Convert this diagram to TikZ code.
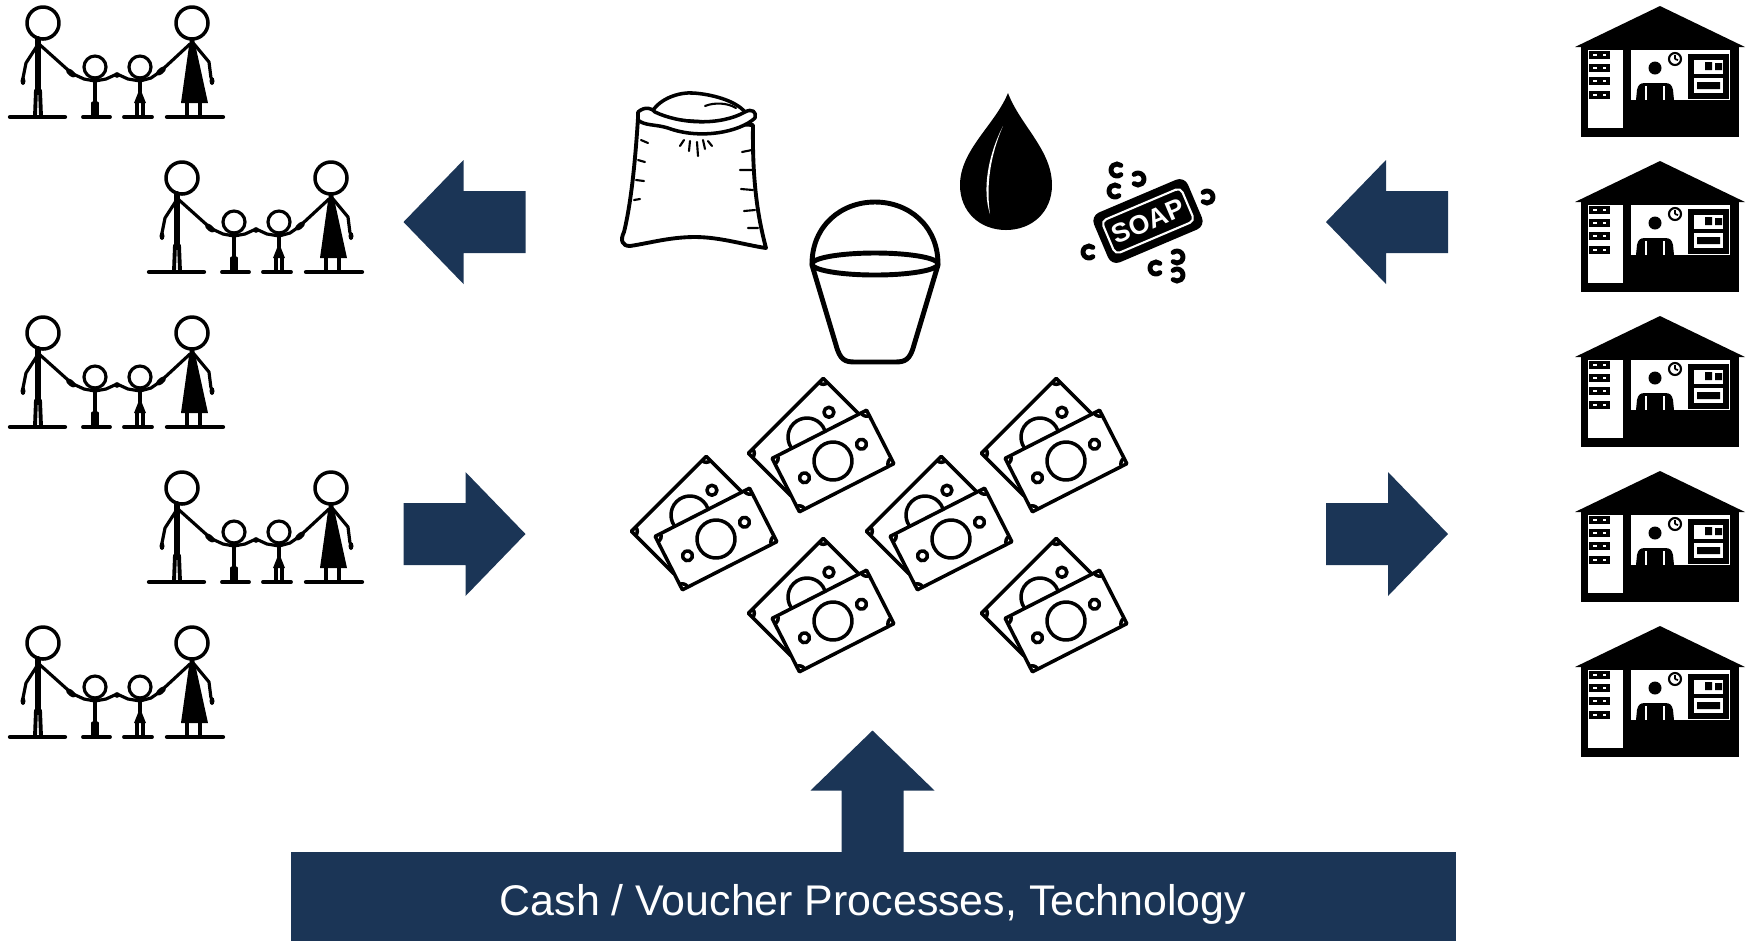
\documentclass[tikz,border=0pt]{standalone}
\usepackage{fontspec}
\setmainfont{Liberation Sans}

\definecolor{barblue}{RGB}{27,53,86}

\tikzset{
  ink/.style={line width=1pt, line cap=round, line join=round},
  % block arrow, pointing right, centred on the origin
  bigarrow/.pic={
    \fill[barblue] (-61,-31) -- (1,-31) -- (1,-62) -- (61,0) -- (1,62) -- (1,31) -- (-61,31) -- cycle;
  },
  suds/.pic={
    \draw[line width=1.4pt, line cap=round] (50:6) arc (50:310:6);
  },
  note/.pic={
    \filldraw[ink, fill=white] (-53,-30) rectangle (53,30);
    \begin{scope}
      \clip (-53,-30) rectangle (53,30);
      \foreach \cx/\cy in {-53/-30, 53/-30, 53/30, -53/30}
        \draw[ink] (\cx,\cy) circle (6);
    \end{scope}
    \draw[ink] (0,0) circle (19);
    \draw[ink] (33,-2) circle (5) (-33,2) circle (5);
  },
  bundle/.pic={
    \pic[rotate=45] at (-14,-11) {note};
    \pic[rotate=27] at (12,13) {note};
  },
  family/.pic={
    % father
    \draw[ink] (43,23) circle (16);
    \draw[ink, line width=1.7pt] (38,39) -- (38,92);
    \draw[ink, line width=1.1pt] (36,90) -- (35,116) (40,90) -- (41,116);
    \draw[ink, line width=1.2pt] (10,117) -- (65,117);
    \draw[ink, line width=0.9pt] (37,46) -- (26,63) -- (23,78);
    \fill (23,81) ellipse (2.5 and 4);
    \draw[ink, line width=0.9pt] (39,44) -- (68,70);
    \fill[rotate around={-40:(71,73)}] (71,73) ellipse (6 and 3);
    % children holding hands
    \draw[ink, line width=0.9pt] (71,73) -- (84,79) -- (95,81) -- (106,79) -- (117,74) -- (128,79) -- (140,81) -- (151,78) -- (161,71);
    \fill (117,75) circle (2.8);
    \draw[ink, line width=0.9pt] (95,67) circle (11);
    \draw[ink, line width=0.9pt] (95,78) -- (95,104) (93,103) -- (93,117) (97,103) -- (97,117);
    \draw[ink, line width=1.1pt] (83,117) -- (110,117);
    \draw[ink, line width=0.9pt] (140,67) circle (11);
    \draw[ink, line width=0.9pt] (140,78) -- (140,92) (137,103) -- (137,117) (143,103) -- (143,117);
    \fill (140,88) -- (146,103) -- (134,103) -- cycle;
    \draw[ink, line width=1.1pt] (124,117) -- (152,117);
    % mother
    \draw[ink] (192,23) circle (16);
    \fill (190,39) -- (194,39) -- (208,103) -- (181,103) -- cycle;
    \draw[ink] (187,103) -- (187,117) (200,103) -- (200,117);
    \draw[ink, line width=1.2pt] (167,117) -- (223,117);
    \draw[ink, line width=0.9pt] (190,44) -- (163,69);
    \fill[rotate around={40:(161,71)}] (161,71) ellipse (6 and 3);
    \draw[ink, line width=0.9pt] (194,44) -- (209,62) -- (211,78);
    \fill (212,81) ellipse (2.5 and 4);
  },
  shop/.pic={
    \fill (15,47) -- (100,6) -- (185,47) -- cycle;
    \fill (21,45) rectangle (179,137);
    % goods on the left
    \fill[white] (28,50) rectangle (63,128);
    \foreach \row in {55,68,81,95}
      \draw[line width=0.9pt] (31,\row-2.5) rectangle (39,\row+2.5) (41,\row-2.5) rectangle (48,\row+2.5);
    % counter window with the seller
    \fill[white] (71,50) rectangle (170,100);
    \fill (95,68) circle (6.5);
    \fill (76,100) -- (77,90) .. controls (78,85) and (80,83) .. (85,83) -- (105,83) .. controls (110,83) and (112,85) .. (113,90) -- (114,100) -- cycle;
    \draw[white, line width=0.8pt] (86,86) -- (86,100) (104,86) -- (104,100);
    \draw[line width=0.6pt] (115,59) circle (6);
    \draw[line width=0.5pt] (115,59) -- (115,55) (115,59) -- (118,60);
    \draw[line width=1.6pt] (131,57) rectangle (166,96);
    \draw[line width=1.4pt] (131,76) -- (166,76);
    \fill (145,62) rectangle (152,70) (155,63) rectangle (162,70) (137,82) rectangle (160,89);
  }
}

\begin{document}
\begin{tikzpicture}[x=0.01cm, y=-0.01cm]
\useasboundingbox (0,0) rectangle (1750,941);

% households and shops
\foreach \i in {0,...,4} {
  \pic at ({mod(\i,2)*139}, {155*\i}) {family};
  \pic at (1560, {155*\i}) {shop};
}

% flows
\pic[rotate=180] at (464.5,222) {bigarrow};
\pic at (464.5,534) {bigarrow};
\pic[rotate=180] at (1387,222) {bigarrow};
\pic at (1387,534) {bigarrow};
\pic[rotate=90] at (872.5,791.5) {bigarrow};

% sack of grain
\filldraw[ink, fill=white, line width=1.1pt] (638,118) .. controls (636,150) and (632,200) .. (624,232)
  .. controls (620,240) and (622,246) .. (630,246)
  .. controls (650,243) and (670,237) .. (695,237)
  .. controls (720,237) and (745,245) .. (766,248)
  .. controls (760,225) and (752,190) .. (753,125) -- cycle;
\draw[ink] (652,112) .. controls (660,98) and (680,92) .. (693,93) .. controls (710,94) and (735,100) .. (745,112);
\draw[ink, line width=0.6pt] (705,106) .. controls (715,102) and (728,103) .. (736,108);
\filldraw[ink, fill=white] (638,112) .. controls (645,106) and (652,108) .. (655,112)
  .. controls (680,124) and (720,126) .. (745,112)
  .. controls (752,108) and (757,112) .. (755,118)
  .. controls (740,132) and (700,140) .. (668,128)
  .. controls (655,124) and (645,126) .. (638,120) -- cycle;
\draw[ink, line width=0.6pt] (641,140) -- (648,143) (638,160) -- (645,162) (636,180) -- (644,181) (634,200) -- (640,199)
  (752,150) -- (742,152) (752,170) -- (740,170) (753,190) -- (741,189) (755,210) -- (744,211) (758,228) -- (748,228)
  (680,146) -- (684,140) (689,151) -- (690,141) (698,156) -- (697,142) (705,149) -- (703,140) (712,146) -- (708,141);

% bucket
\draw[ink, line width=1.4pt] (812,265) -- (836,345) .. controls (840,360) and (845,362) .. (855,362) -- (895,362)
  .. controls (905,362) and (910,360) .. (914,345) -- (938,265);
\draw[ink, line width=1.4pt] (875,264) ellipse (63 and 11);
\draw[ink, line width=1.4pt] (812,264) .. controls (812,226) and (841,202) .. (875,202) .. controls (909,202) and (938,226) .. (938,264);

% water drop
\fill (1008,93) .. controls (1020,125) and (1052,150) .. (1052,185) .. controls (1052,212) and (1032,230) .. (1006,230)
  .. controls (980,230) and (960,212) .. (960,185) .. controls (960,150) and (995,125) .. cycle;
\fill[white] (1003,126) .. controls (988,155) and (982,190) .. (990,214) .. controls (986,186) and (990,156) .. cycle;

% soap bar with suds
\begin{scope}[shift={(1148,221)}, rotate=23]
  \fill[rounded corners=2.6pt] (-51,-27) rectangle (51,27);
  \draw[white, line width=0.6pt, rounded corners=1.5pt] (-43,-18) rectangle (43,18);
  \node[text=white, font=\bfseries\fontsize{7.6}{7.6}\selectfont, transform shape, inner sep=0] (soaplabel) at (0,0) {SOAP};
\end{scope}
\pic at (1117,170) {suds};
\pic[rotate=180] at (1138,179) {suds};
\pic at (1115,191) {suds};
\pic[rotate=180] at (1207,197) {suds};
\pic at (1089,252) {suds};
\pic at (1156,268) {suds};
\pic[rotate=180] at (1177,257) {suds};
\pic[rotate=180] at (1177,275) {suds};

% cash
\foreach \bx/\by in {704/526, 821/448, 821/608, 939/526, 1054/448, 1054/608}
  \pic at (\bx,\by) {bundle};

% base of the programme
\fill[barblue] (291,852) rectangle (1456,941);
\node[text=white, font=\fontsize{12.2}{14}\selectfont, anchor=base, inner sep=0] (process) at (873,915) {Cash / Voucher Processes, Technology};
\end{tikzpicture}
\end{document}
